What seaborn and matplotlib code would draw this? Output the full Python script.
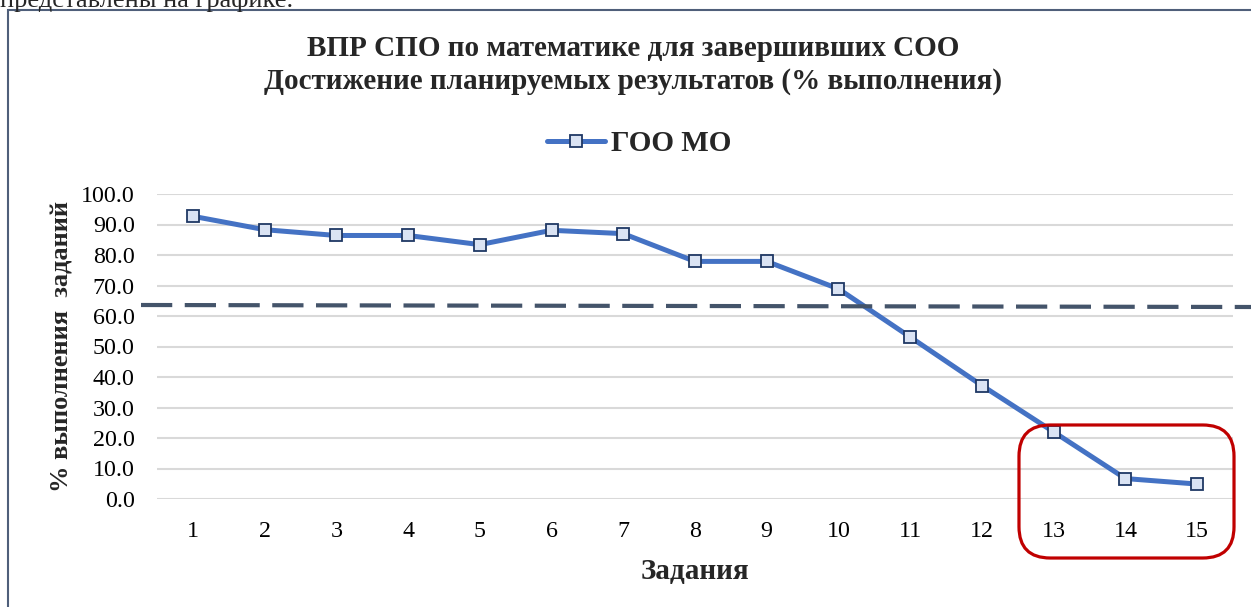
import matplotlib
matplotlib.use("Agg")
import matplotlib.pyplot as plt
import seaborn as sns
import pandas as pd
from matplotlib.patches import FancyBboxPatch, Rectangle
from matplotlib.lines import Line2D

# values
tasks = list(range(1, 16))
percent = [92.7, 88.3, 86.4, 86.4, 83.4, 88.1, 87.0, 77.9, 77.9, 68.9, 53.1, 37.2, 22.0, 6.7, 4.9]
series_name = "ГОО МО"
title = "ВПР СПО по математике для завершивших СОО\nДостижение планируемых результатов (% выполнения)"
y_ticks = [0, 10, 20, 30, 40, 50, 60, 70, 80, 90, 100]

df = pd.DataFrame({"Задания": tasks, "percent": percent})

sns.set_theme(style="white")
plt.rcParams["font.family"] = ["Liberation Serif", "DejaVu Serif"]

W, H = 1251, 607
fig = plt.figure(figsize=(W / 100, H / 100), dpi=100)


def fx(px):
    return px / W


def fy(py):
    return 1 - py / H


# plot area in pixels: left 157, right 1233, top 194, bottom 499
ax = fig.add_axes([fx(157), fy(499), fx(1233 - 157), (499 - 194) / H])

sns.lineplot(data=df, x="Задания", y="percent", ax=ax, color="#4472C4",
             linewidth=3.6, marker="s", markersize=8.5,
             markerfacecolor="#DAE3F3", markeredgecolor="#1F3864",
             markeredgewidth=1.3, label=series_name, legend=False, zorder=3)

ax.set_xlim(0.5, 15.5)
ax.set_ylim(0, 100)
ax.set_xticks(tasks)
ax.set_xticklabels([str(t) for t in tasks])
ax.set_yticks(y_ticks)
ax.set_yticklabels([f"{v:.1f}" for v in y_ticks])
ax.tick_params(axis="both", labelsize=17.3, length=0, colors="black")
ax.tick_params(axis="y", pad=16)
ax.tick_params(axis="x", pad=16)
ax.grid(axis="y", color="#D9D9D9", linewidth=1.5)
ax.set_axisbelow(True)
for s in ax.spines.values():
    s.set_visible(False)

ax.set_xlabel("")
ax.set_ylabel("")
fig.text(fx(695), fy(571), "Задания", ha="center", va="center",
         fontsize=21, fontweight="bold")
fig.text(fx(62), fy(347), "% выполнения  заданий", ha="center", va="center",
         rotation=90, fontsize=19, fontweight="bold")

fig.text(fx(633), fy(65), title, ha="center", va="center", fontsize=21,
         fontweight="bold", linespacing=1.3)

handle = Line2D([], [], color="#4472C4", linewidth=3.6, marker="s", markersize=8.5,
                markerfacecolor="#DAE3F3", markeredgecolor="#1F3864", markeredgewidth=1.3)
fig.legend([handle], [series_name], loc="center", bbox_to_anchor=(fx(639), fy(144)),
           frameon=False, handlelength=2.0, handletextpad=0.2,
           prop={"size": 21, "weight": "bold"})

# chart frame (right and bottom edges lie outside the picture)
fig.patches.append(Rectangle((fx(8), fy(640)), fx(1300), (640 - 10) / H,
                             transform=fig.transFigure, fill=False,
                             edgecolor="#4F5F7A", linewidth=1.5))

# dashed reference line drawn over the chart
fig.add_artist(Line2D([fx(141), fx(1251)], [fy(305), fy(307)],
                      transform=fig.transFigure, color="#44546A",
                      linewidth=3, linestyle=(0, (7.5, 3)), zorder=5))

# red rounded box round the last tasks
fig.patches.append(FancyBboxPatch((fx(1034), fy(543)), fx(1219 - 1034), (543 - 440) / H,
                                  boxstyle="round,pad=0.012,rounding_size=0.025",
                                  transform=fig.transFigure, fill=False,
                                  edgecolor="#C00000", linewidth=2.3,
                                  mutation_aspect=W / H))

# page text cut off above the chart
fig.text(fx(0), fy(7), "представлены на графике.", ha="left", va="baseline",
         fontsize=19)

fig.savefig("out.png", dpi=100)
